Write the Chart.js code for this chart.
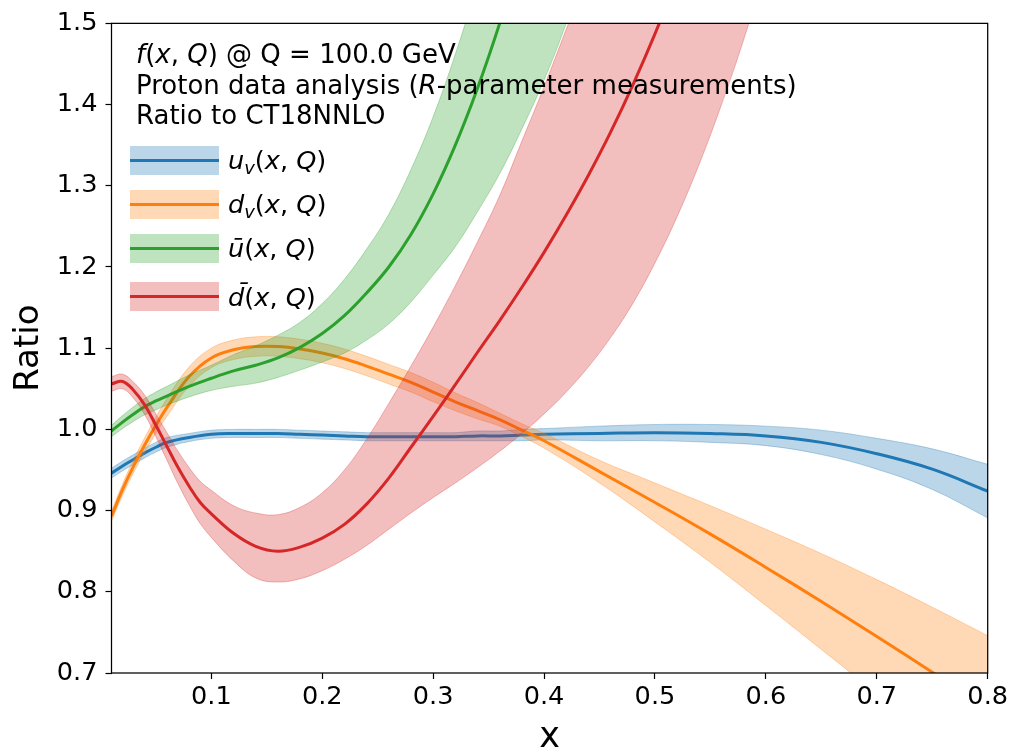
<!DOCTYPE html>
<html>
<head>
<meta charset="utf-8">
<script src="https://cdn.jsdelivr.net/npm/chart.js@4.4.1/dist/chart.umd.min.js"></script>
<style>
  html, body { margin: 0; padding: 0; background: #ffffff; }
  #wrap { width: 1014px; height: 748px; }
</style>
</head>
<body>
<div id="wrap"><canvas id="chart" width="1014" height="748"></canvas></div>
<script>
// ---- Ratio of PDFs to CT18NNLO at Q = 100 GeV ----

// x grids and tick values
const xValence = [0.01, 0.02, 0.03, 0.04, 0.05, 0.06, 0.08, 0.10, 0.12, 0.14, 0.16, 0.18, 0.20, 0.22, 0.24, 0.26,
                  0.28, 0.30, 0.32, 0.34, 0.36, 0.38, 0.40, 0.45, 0.50, 0.55, 0.60, 0.65, 0.70, 0.75, 0.80];
const xUbar = [0.01, 0.02, 0.03, 0.04, 0.05, 0.06, 0.08, 0.10, 0.12, 0.14, 0.16, 0.18, 0.20, 0.22, 0.24, 0.26,
               0.28, 0.30, 0.32, 0.34, 0.36, 0.38, 0.40, 0.42, 0.44];
const xDbar = [0.01, 0.02, 0.03, 0.04, 0.05, 0.06, 0.07, 0.08, 0.09, 0.10, 0.12, 0.14, 0.16, 0.18, 0.20, 0.22,
               0.24, 0.26, 0.28, 0.30, 0.32, 0.34, 0.36, 0.38, 0.40, 0.42, 0.44, 0.46, 0.48, 0.50, 0.52, 0.54,
               0.56, 0.58, 0.60];
const xTicks = [0.1, 0.2, 0.3, 0.4, 0.5, 0.6, 0.7, 0.8];
const yTicks = [0.7, 0.8, 0.9, 1.0, 1.1, 1.2, 1.3, 1.4, 1.5];

// u_v : central value, lower and upper edge of the band
const uvMid = [0.946, 0.955, 0.963, 0.971, 0.978, 0.984, 0.990, 0.994, 0.995, 0.995, 0.995, 0.994, 0.993, 0.992, 0.991, 0.991,
               0.991, 0.991, 0.991, 0.992, 0.992, 0.993, 0.994, 0.995, 0.996, 0.995, 0.992, 0.984, 0.970, 0.951, 0.924];
const uvLo  = [0.940, 0.949, 0.957, 0.965, 0.972, 0.978, 0.985, 0.989, 0.990, 0.990, 0.990, 0.989, 0.988, 0.987, 0.986, 0.986,
               0.986, 0.986, 0.986, 0.986, 0.986, 0.986, 0.987, 0.986, 0.986, 0.984, 0.980, 0.969, 0.951, 0.926, 0.891];
const uvHi  = [0.952, 0.961, 0.969, 0.977, 0.984, 0.990, 0.995, 0.999, 1.000, 1.000, 1.000, 0.999, 0.998, 0.997, 0.996, 0.996,
               0.996, 0.996, 0.996, 0.998, 0.998, 1.000, 1.001, 1.004, 1.006, 1.006, 1.004, 0.999, 0.989, 0.976, 0.957];

// d_v
const dvMid = [0.893, 0.926, 0.955, 0.981, 1.005, 1.027, 1.065, 1.088, 1.098, 1.102, 1.102, 1.099, 1.094, 1.087, 1.078, 1.068,
               1.058, 1.046, 1.034, 1.023, 1.012, 0.999, 0.986, 0.948, 0.910, 0.871, 0.830, 0.788, 0.745, 0.701, 0.656];
const dvLo  = [0.887, 0.919, 0.947, 0.972, 0.995, 1.016, 1.053, 1.076, 1.086, 1.090, 1.090, 1.087, 1.082, 1.075, 1.066, 1.056,
               1.046, 1.034, 1.023, 1.013, 1.004, 0.991, 0.977, 0.934, 0.886, 0.836, 0.783, 0.729, 0.675, 0.621, 0.566];
const dvHi  = [0.899, 0.933, 0.963, 0.990, 1.015, 1.038, 1.077, 1.100, 1.110, 1.114, 1.114, 1.111, 1.106, 1.099, 1.090, 1.080,
               1.070, 1.058, 1.045, 1.033, 1.020, 1.007, 0.995, 0.962, 0.934, 0.906, 0.877, 0.847, 0.815, 0.781, 0.746];

// u-bar
const ubMid = [0.998, 1.009, 1.019, 1.028, 1.035, 1.041, 1.053, 1.063, 1.072, 1.079, 1.088, 1.101, 1.118, 1.140, 1.168, 1.200,
               1.240, 1.290, 1.350, 1.420, 1.500, 1.590, 1.690, 1.800, 1.920];
const ubLo  = [0.991, 1.001, 1.010, 1.018, 1.024, 1.030, 1.040, 1.048, 1.053, 1.057, 1.064, 1.073, 1.083, 1.094, 1.110, 1.130,
               1.157, 1.190, 1.225, 1.268, 1.315, 1.370, 1.430, 1.500, 1.580];
const ubHi  = [1.005, 1.017, 1.028, 1.038, 1.046, 1.053, 1.067, 1.079, 1.092, 1.103, 1.116, 1.132, 1.155, 1.185, 1.222, 1.265,
               1.320, 1.385, 1.462, 1.550, 1.650, 1.760, 1.880, 2.010, 2.150];

// d-bar
const dbMid = [1.056, 1.059, 1.048, 1.030, 1.005, 0.979, 0.953, 0.930, 0.910, 0.896, 0.872, 0.856, 0.850, 0.855, 0.866, 0.883,
               0.908, 0.940, 0.978, 1.016, 1.055, 1.095, 1.134, 1.175, 1.218, 1.264, 1.313, 1.366, 1.424, 1.487, 1.556, 1.630,
               1.710, 1.795, 1.885];
const dbLo  = [1.047, 1.050, 1.038, 1.018, 0.991, 0.962, 0.933, 0.907, 0.884, 0.867, 0.838, 0.817, 0.812, 0.816, 0.826, 0.840,
               0.857, 0.877, 0.897, 0.916, 0.934, 0.953, 0.973, 0.995, 1.019, 1.046, 1.077, 1.113, 1.155, 1.205, 1.262, 1.327,
               1.400, 1.480, 1.570];
const dbHi  = [1.065, 1.068, 1.058, 1.042, 1.019, 0.996, 0.973, 0.953, 0.936, 0.925, 0.906, 0.897, 0.895, 0.904, 0.922, 0.950,
               0.988, 1.032, 1.078, 1.126, 1.177, 1.231, 1.288, 1.355, 1.422, 1.493, 1.565, 1.640, 1.720, 1.805, 1.895, 1.985,
               2.080, 2.175, 2.275];

// ---- styling ----
const FONT = "'DejaVu Sans', 'Liberation Sans', sans-serif";
const TICK_SIZE = 25.6;
const TEXT_SIZE = 26;
const COLORS = { uv: [31, 119, 180], dv: [255, 127, 14], ub: [44, 160, 44], db: [214, 39, 40] };
const rgba = (c, a) => `rgba(${c[0]},${c[1]},${c[2]},${a})`;

// one series = lower edge, upper edge filled down to it, and the central line
function series(name, color, xs, lo, hi, mid, order) {
  const pts = arr => xs.map((x, i) => ({ x: x, y: arr[i] }));
  const common = { pointRadius: 0, pointHoverRadius: 0, tension: 0.4, clip: 0 };
  return [
    Object.assign({ label: name + ' (lower)', data: pts(lo), borderColor: rgba(color, 0.3), borderWidth: 1,
                    fill: false, order: order + 1 }, common),
    Object.assign({ label: name + ' (upper)', data: pts(hi), borderColor: rgba(color, 0.3), borderWidth: 1,
                    backgroundColor: rgba(color, 0.3), fill: '-1', order: order + 1 }, common),
    Object.assign({ label: name, data: pts(mid), borderColor: rgba(color, 1), borderWidth: 3,
                    fill: false, order: order }, common)
  ];
}

const datasets = [].concat(
  series('u_v', COLORS.uv, xValence, uvLo, uvHi, uvMid, 6),
  series('d_v', COLORS.dv, xValence, dvLo, dvHi, dvMid, 4),
  series('ubar', COLORS.ub, xUbar, ubLo, ubHi, ubMid, 2),
  series('dbar', COLORS.db, xDbar, dbLo, dbHi, dbMid, 0)
);

// draws a run of [text, style] pieces on one baseline
function drawRuns(ctx, x, y, runs, size) {
  let cx = x;
  for (const [txt, style] of runs) {
    let s = size, dy = 0, st = '';
    if (style === 'i') st = 'italic ';
    if (style === 'sub') { st = 'italic '; s = size * 0.7; dy = size * 0.2; }
    ctx.font = `${st}${s}px ${FONT}`;
    ctx.fillText(txt, cx, y + dy);
    cx += ctx.measureText(txt).width;
  }
}

const annotation = {
  id: 'annotation',
  afterDraw(chart) {
    const ctx = chart.ctx;
    const a = chart.chartArea;
    ctx.save();
    // frame round the plotting area
    ctx.strokeStyle = '#000';
    ctx.lineWidth = 1.25;
    ctx.strokeRect(a.left, a.top, a.right - a.left, a.bottom - a.top);

    ctx.fillStyle = '#000';
    ctx.textBaseline = 'alphabetic';
    ctx.textAlign = 'left';
    const s = TEXT_SIZE;
    drawRuns(ctx, 136, 63, [['f', 'i'], ['(', 'n'], ['x', 'i'], [', ', 'n'], ['Q', 'i'], [')', 'n'],
                            [' @ Q = 100.0 GeV', 'n']], s);
    drawRuns(ctx, 136, 93.5, [['Proton data analysis (', 'n'], ['R', 'i'], ['-parameter measurements)', 'n']], s);
    drawRuns(ctx, 136, 124, [['Ratio to CT18NNLO', 'n']], s);

    // legend: shaded patch with the line through it
    const rows = [
      { c: COLORS.uv, mid: 160.5, base: 168.5, runs: [['u', 'i'], ['v', 'sub'], ['(', 'n'], ['x', 'i'], [', ', 'n'], ['Q', 'i'], [')', 'n']] },
      { c: COLORS.dv, mid: 204.5, base: 213, runs: [['d', 'i'], ['v', 'sub'], ['(', 'n'], ['x', 'i'], [', ', 'n'], ['Q', 'i'], [')', 'n']] },
      { c: COLORS.ub, mid: 248.5, base: 257, runs: [['\u016B', 'i'], ['(', 'n'], ['x', 'i'], [', ', 'n'], ['Q', 'i'], [')', 'n']] },
      { c: COLORS.db, mid: 296.5, base: 305.5, runs: [['d\u0304', 'i'], ['(', 'n'], ['x', 'i'], [', ', 'n'], ['Q', 'i'], [')', 'n']] }
    ];
    for (const r of rows) {
      ctx.fillStyle = rgba(r.c, 0.3);
      ctx.fillRect(130, r.mid - 14.5, 89, 29);
      ctx.strokeStyle = rgba(r.c, 1);
      ctx.lineWidth = 3;
      ctx.beginPath();
      ctx.moveTo(130, r.mid);
      ctx.lineTo(219, r.mid);
      ctx.stroke();
      ctx.fillStyle = '#000';
      drawRuns(ctx, 228, r.base, r.runs, 25.6);
    }
    ctx.restore();
  }
};

new Chart(document.getElementById('chart'), {
  type: 'line',
  data: { datasets: datasets },
  options: {
    responsive: false,
    animation: false,
    events: [],
    layout: { padding: { left: 0, top: 19, right: 26.3, bottom: 0 } },
    plugins: { legend: { display: false }, tooltip: { enabled: false }, title: { display: false } },
    scales: {
      x: {
        type: 'linear',
        min: 0.01,
        max: 0.8,
        afterBuildTicks: axis => { axis.ticks = xTicks.map(v => ({ value: v })); },
        afterFit: axis => { axis.height = 75; },
        ticks: { color: '#000', font: { family: FONT, size: TICK_SIZE }, padding: 3,
                 maxRotation: 0, autoSkip: false, callback: v => v.toFixed(1) },
        grid: { drawOnChartArea: false, drawTicks: true, tickLength: 6, tickColor: '#000', tickWidth: 1.2 },
        border: { display: false },
        title: { display: true, text: 'x', color: '#000', font: { family: FONT, size: 35, lineHeight: 0.6 },
                 padding: { top: 0, bottom: 0 } }
      },
      y: {
        type: 'linear',
        min: 0.7,
        max: 1.5,
        afterBuildTicks: axis => { axis.ticks = yTicks.map(v => ({ value: v })); },
        afterFit: axis => { axis.width = 111.5; },
        ticks: { color: '#000', font: { family: FONT, size: TICK_SIZE }, padding: 8,
                 autoSkip: false, callback: v => v.toFixed(1) },
        grid: { drawOnChartArea: false, drawTicks: true, tickLength: 6, tickColor: '#000', tickWidth: 1.2 },
        border: { display: false },
        title: { display: true, text: 'Ratio', color: '#000', font: { family: FONT, size: 34, lineHeight: 1.2 },
                 padding: { top: 9, bottom: 0 } }
      }
    }
  },
  plugins: [annotation]
});
</script>
</body>
</html>
